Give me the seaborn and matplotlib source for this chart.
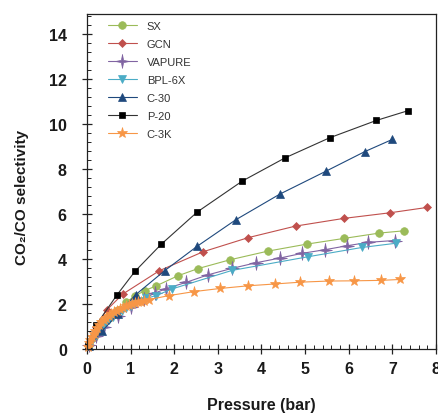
import matplotlib
matplotlib.use("Agg")
import matplotlib.pyplot as plt
from matplotlib.ticker import MultipleLocator
import seaborn as sns
import pandas as pd

# CO2/CO selectivity of the adsorbents versus pressure (bar)
sx_p = [0.05, 0.15, 0.30, 0.50, 0.70, 0.90, 1.10, 1.32, 1.58, 2.08, 2.54, 3.27, 4.15, 5.04, 5.88, 6.70, 7.26]
sx_s = [0.20, 0.55, 0.95, 1.40, 1.75, 2.10, 2.38, 2.61, 2.82, 3.27, 3.59, 3.98, 4.37, 4.68, 4.93, 5.17, 5.27]

gcn_p = [0.05, 0.20, 0.45, 0.82, 1.66, 2.66, 3.70, 4.78, 5.88, 6.94, 7.80]
gcn_s = [0.35, 1.00, 1.75, 2.46, 3.50, 4.34, 4.97, 5.48, 5.82, 6.07, 6.31]

vapure_p = [0.05, 0.20, 0.40, 0.70, 1.00, 1.30, 1.55, 1.81, 2.27, 2.78, 3.32, 3.87, 4.42, 4.93, 5.45, 5.97, 6.45, 7.05]
vapure_s = [0.20, 0.60, 1.00, 1.50, 1.90, 2.25, 2.50, 2.70, 2.98, 3.32, 3.60, 3.85, 4.06, 4.27, 4.43, 4.61, 4.76, 4.84]

bpl_p = [0.05, 0.10, 0.15, 0.20, 0.30, 0.40, 0.50, 0.60, 0.70, 0.80, 0.90, 1.00, 1.10, 1.20, 1.35, 1.58, 1.95, 3.32, 5.07, 6.30, 7.09]
bpl_s = [0.15, 0.35, 0.50, 0.65, 0.90, 1.10, 1.30, 1.45, 1.60, 1.72, 1.85, 1.95, 2.05, 2.15, 2.27, 2.39, 2.69, 3.51, 4.12, 4.53, 4.72]

c30_p = [0.05, 0.34, 0.71, 1.12, 1.78, 2.53, 3.41, 4.42, 5.49, 6.37, 7.00]
c30_s = [0.15, 0.80, 1.58, 2.44, 3.50, 4.59, 5.76, 6.90, 7.93, 8.79, 9.33]

p20_p = [0.02, 0.21, 0.69, 1.10, 1.70, 2.53, 3.56, 4.54, 5.56, 6.63, 7.35]
p20_s = [0.15, 1.09, 2.43, 3.47, 4.67, 6.11, 7.48, 8.51, 9.40, 10.17, 10.60]

c3k_p = [0.02, 0.05, 0.08, 0.11, 0.15, 0.19, 0.23, 0.28, 0.33, 0.38, 0.44, 0.50,
         0.56, 0.62, 0.68, 0.75, 0.82, 0.89, 0.96, 1.03, 1.10, 1.17, 1.24, 1.31,
         1.43, 1.87, 2.45, 3.05, 3.70, 4.31, 4.89, 5.54, 6.13, 6.74, 7.18]
c3k_s = [0.10, 0.28, 0.42, 0.55, 0.70, 0.84, 0.96, 1.09, 1.20, 1.30, 1.41, 1.50,
         1.58, 1.66, 1.73, 1.80, 1.86, 1.92, 1.97, 2.02, 2.06, 2.10, 2.13, 2.17,
         2.22, 2.39, 2.57, 2.71, 2.83, 2.91, 2.99, 3.04, 3.05, 3.07, 3.11]

names = ["SX", "GCN", "VAPURE", "BPL-6X", "C-30", "P-20", "C-3K"]
pressures = [sx_p, gcn_p, vapure_p, bpl_p, c30_p, p20_p, c3k_p]
selectivities = [sx_s, gcn_s, vapure_s, bpl_s, c30_s, p20_s, c3k_s]

# slender four-pointed star for VAPURE
star4 = [(0, 1), (0.16, 0.16), (1, 0), (0.16, -0.16), (0, -1),
         (-0.16, -0.16), (-1, 0), (-0.16, 0.16), (0, 1)]

colors = ["#9BBB59", "#C0504D", "#8064A2", "#4BACC6", "#1F497D", "#000000", "#F79646"]
line_colors = ["#9BBB59", "#C0504D", "#8064A2", "#4BACC6", "#1F497D", "#333333", "#F79646"]
markers = ["o", "D", star4, "v", "^", "s", "*"]
marker_sizes = [5.5, 4.5, 10, 6, 6, 5, 8]

sns.set_style("ticks")
plt.rcParams["font.family"] = ["Liberation Sans", "DejaVu Sans"]

fig = plt.figure(figsize=(4.38, 4.14), dpi=100)
ax = fig.add_axes([0.1986, 0.1534, 0.7968, 0.8104])

for name, px, sy, col, lc, mk, ms in zip(names, pressures, selectivities,
                                          colors, line_colors, markers, marker_sizes):
    df = pd.DataFrame({"p": px, "s": sy})
    sns.lineplot(data=df, x="p", y="s", ax=ax, estimator=None, sort=False,
                 color=lc, linewidth=0.8, marker=mk, markersize=ms,
                 markerfacecolor=col, markeredgecolor=col, markeredgewidth=0.5,
                 label=name, clip_on=False)

ax.set_xlim(0, 8)
ax.set_ylim(0, 14.9)
ax.xaxis.set_major_locator(MultipleLocator(1))
ax.xaxis.set_minor_locator(MultipleLocator(0.2))
ax.yaxis.set_major_locator(MultipleLocator(2))
ax.yaxis.set_minor_locator(MultipleLocator(0.4))

ax.tick_params(which="major", direction="inout", length=7, width=0.9, color="#222222")
ax.tick_params(which="minor", direction="in", length=3, width=0.7, color="#222222")
ax.tick_params(axis="x", which="major", pad=5, labelsize=11.5)
ax.tick_params(axis="y", which="major", pad=11, labelsize=11.5)
for lab in ax.get_xticklabels() + ax.get_yticklabels():
    lab.set_fontweight("bold")
    lab.set_color("#1a1a1a")

for sp in ax.spines.values():
    sp.set_visible(True)
    sp.set_linewidth(0.9)
    sp.set_color("#222222")

ax.set_xlabel("Pressure (bar)", fontsize=11.5, fontweight="bold", labelpad=15, color="#1a1a1a")
ax.set_ylabel("CO₂/CO selectivity", fontsize=11, fontweight="bold", color="#1a1a1a")
ax.yaxis.set_label_coords(-0.165, 0.455)

leg = ax.legend(loc="upper left", bbox_to_anchor=(0.06, 0.978), frameon=False,
                fontsize=8, handlelength=2.6, handletextpad=0.9, labelspacing=0.72,
                borderaxespad=0, borderpad=0)
for t in leg.get_texts():
    t.set_color("#333333")

fig.savefig("out.png", dpi=100)
